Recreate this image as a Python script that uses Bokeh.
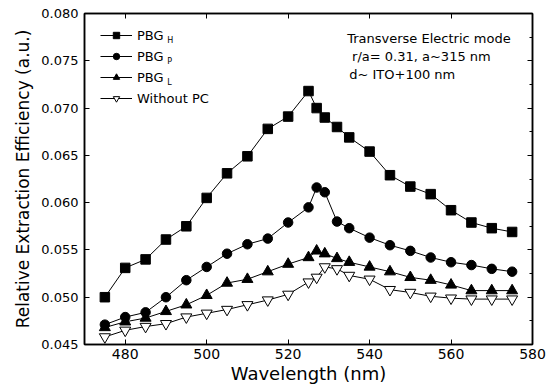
from bokeh.plotting import figure
from bokeh.models import (Range1d, LinearAxis, FixedTicker, NumeralTickFormatter,
                          CustomJSTickFormatter, Legend, LegendItem, Label)
from bokeh.embed import file_html
from bokeh.resources import INLINE

# ---- data ----
wavelength = [475, 480, 485, 490, 495, 500, 505, 510, 515, 520, 525, 527, 529,
              532, 535, 540, 545, 550, 555, 560, 565, 570, 575]
pbg_h = [0.0500, 0.0531, 0.0540, 0.0561, 0.0575, 0.0605, 0.0631, 0.0649, 0.0678,
         0.0691, 0.0718, 0.0700, 0.0690, 0.0680, 0.0669, 0.0654, 0.0629, 0.0617,
         0.0609, 0.0592, 0.0579, 0.0573, 0.0569]
pbg_p = [0.0471, 0.0479, 0.0484, 0.0500, 0.0518, 0.0532, 0.0546, 0.0556, 0.0562,
         0.0579, 0.0595, 0.0616, 0.0611, 0.0580, 0.0573, 0.0563, 0.0555, 0.0549,
         0.0542, 0.0537, 0.0534, 0.0530, 0.0527]
pbg_l = [0.0468, 0.0474, 0.0478, 0.0485, 0.0492, 0.0502, 0.0515, 0.0519, 0.0527,
         0.0535, 0.0542, 0.0549, 0.0546, 0.0541, 0.0537, 0.0532, 0.0527, 0.0521,
         0.0518, 0.0513, 0.0507, 0.0507, 0.0507]
without_pc = [0.0458, 0.0465, 0.0469, 0.0472, 0.0479, 0.0483, 0.0487, 0.0492, 0.0497,
              0.0503, 0.0516, 0.0521, 0.0532, 0.0530, 0.0523, 0.0519, 0.0508, 0.0505,
              0.0501, 0.0499, 0.0498, 0.0498, 0.0498]

series_labels = ["PBG", "PBG", "PBG", "Without PC"]
series_subscripts = ["H", "P", "L", ""]

x_ticks = [480, 500, 520, 540, 560, 580]
y_ticks = [0.045, 0.050, 0.055, 0.060, 0.065, 0.070, 0.075, 0.080]
y_minor_ticks = [0.0475, 0.0525, 0.0575, 0.0625, 0.0675, 0.0725, 0.0775]

annotation_lines = ["Transverse Electric mode", "r/a= 0.31, a~315 nm", "d~ ITO+100 nm"]

FONT = "DejaVu Sans"

p = figure(width=555, height=392, output_backend="svg", toolbar_location=None,
           x_range=Range1d(470, 580), y_range=Range1d(0.045, 0.080),
           min_border_left=84, min_border_right=23, min_border_top=13,
           min_border_bottom=48)
p.grid.visible = False
p.background_fill_color = "white"
p.border_fill_color = "white"
p.outline_line_color = "black"
p.outline_line_width = 1.5

# bottom axis
xa = p.xaxis[0]
xa.ticker = FixedTicker(ticks=x_ticks)
xa.axis_label = "Wavelength (nm)"
# left axis
ya = p.yaxis[0]
ya.ticker = FixedTicker(ticks=y_ticks)
ya.formatter = NumeralTickFormatter(format="0.000")
ya.axis_label = "Relative Extraction Efficiency (a.u.)"

for ax in (xa, ya):
    ax.axis_line_color = "black"
    ax.axis_line_width = 1.5
    ax.major_tick_in = 5
    ax.major_tick_out = 0
    ax.major_tick_line_width = 1
    ax.minor_tick_line_color = None
    ax.major_label_text_font = FONT
    ax.axis_label_text_font = FONT
    ax.axis_label_text_font_style = "normal"
    ax.major_label_text_color = "black"
    ax.axis_label_text_color = "black"

xa.major_label_text_font_size = "14px"
xa.major_label_standoff = 4
xa.axis_label_text_font_size = "18px"
xa.axis_label_standoff = 1
ya.major_label_text_font_size = "13px"
ya.major_label_standoff = 6
ya.axis_label_text_font_size = "17px"
ya.axis_label_standoff = 5

blank = CustomJSTickFormatter(code="return ''")
top = LinearAxis(ticker=FixedTicker(ticks=x_ticks),
                 formatter=blank, major_label_standoff=0,
                 major_label_text_font_size="1px",
                 major_tick_in=5, major_tick_out=0,
                 minor_tick_line_color=None, axis_line_color="black",
                 axis_line_width=1.5)
p.add_layout(top, "above")
right = LinearAxis(ticker=FixedTicker(ticks=y_ticks, minor_ticks=y_minor_ticks),
                   formatter=blank, major_label_standoff=0,
                   major_label_text_font_size="1px",
                   major_tick_in=5, major_tick_out=0,
                   minor_tick_in=3, minor_tick_out=0,
                   axis_line_color="black", axis_line_width=1.5)
p.add_layout(right, "right")

# ---- series ----
styles = [
    dict(marker="square", size=9.5, fill_color="black"),
    dict(marker="circle", size=9.5, fill_color="black"),
    dict(marker="triangle", size=11, fill_color="black"),
    dict(marker="inverted_triangle", size=11, fill_color="white"),
]
all_series = [pbg_h, pbg_p, pbg_l, without_pc]
items = []
for ys, st, lab in zip(all_series, styles, series_labels):
    ln = p.line(wavelength, ys, line_color="black", line_width=1)
    sc = p.scatter(wavelength, ys, marker=st["marker"], size=st["size"],
                   fill_color=st["fill_color"], line_color="black", line_width=1)
    items.append(LegendItem(label=lab, renderers=[ln, sc]))

legend = Legend(items=items, location=(16, 238), border_line_color=None,
                background_fill_alpha=0, glyph_width=32, glyph_height=16,
                label_height=16, spacing=5, padding=0, margin=0,
                label_standoff=5, label_text_font=FONT,
                label_text_font_size="13px", label_text_color="black")
p.add_layout(legend)

# subscripts of the legend labels
sub_y = [0.07716, 0.07495, 0.07274]
for sub, yv in zip(series_subscripts[:3], sub_y):
    p.add_layout(Label(x=490.3, y=yv, text=sub, text_font=FONT,
                       text_font_size="8px", text_baseline="middle",
                       text_color="black"))

# annotation text, top right
ann_x = [534.5, 535.7, 535.0]
ann_y = [0.07737, 0.07547, 0.07358]
for t, xv, yv in zip(annotation_lines, ann_x, ann_y):
    p.add_layout(Label(x=xv, y=yv, text=t, text_font=FONT, text_font_size="13px",
                       text_baseline="middle", text_color="black"))

open("out.html", "w").write(file_html(p, INLINE))
